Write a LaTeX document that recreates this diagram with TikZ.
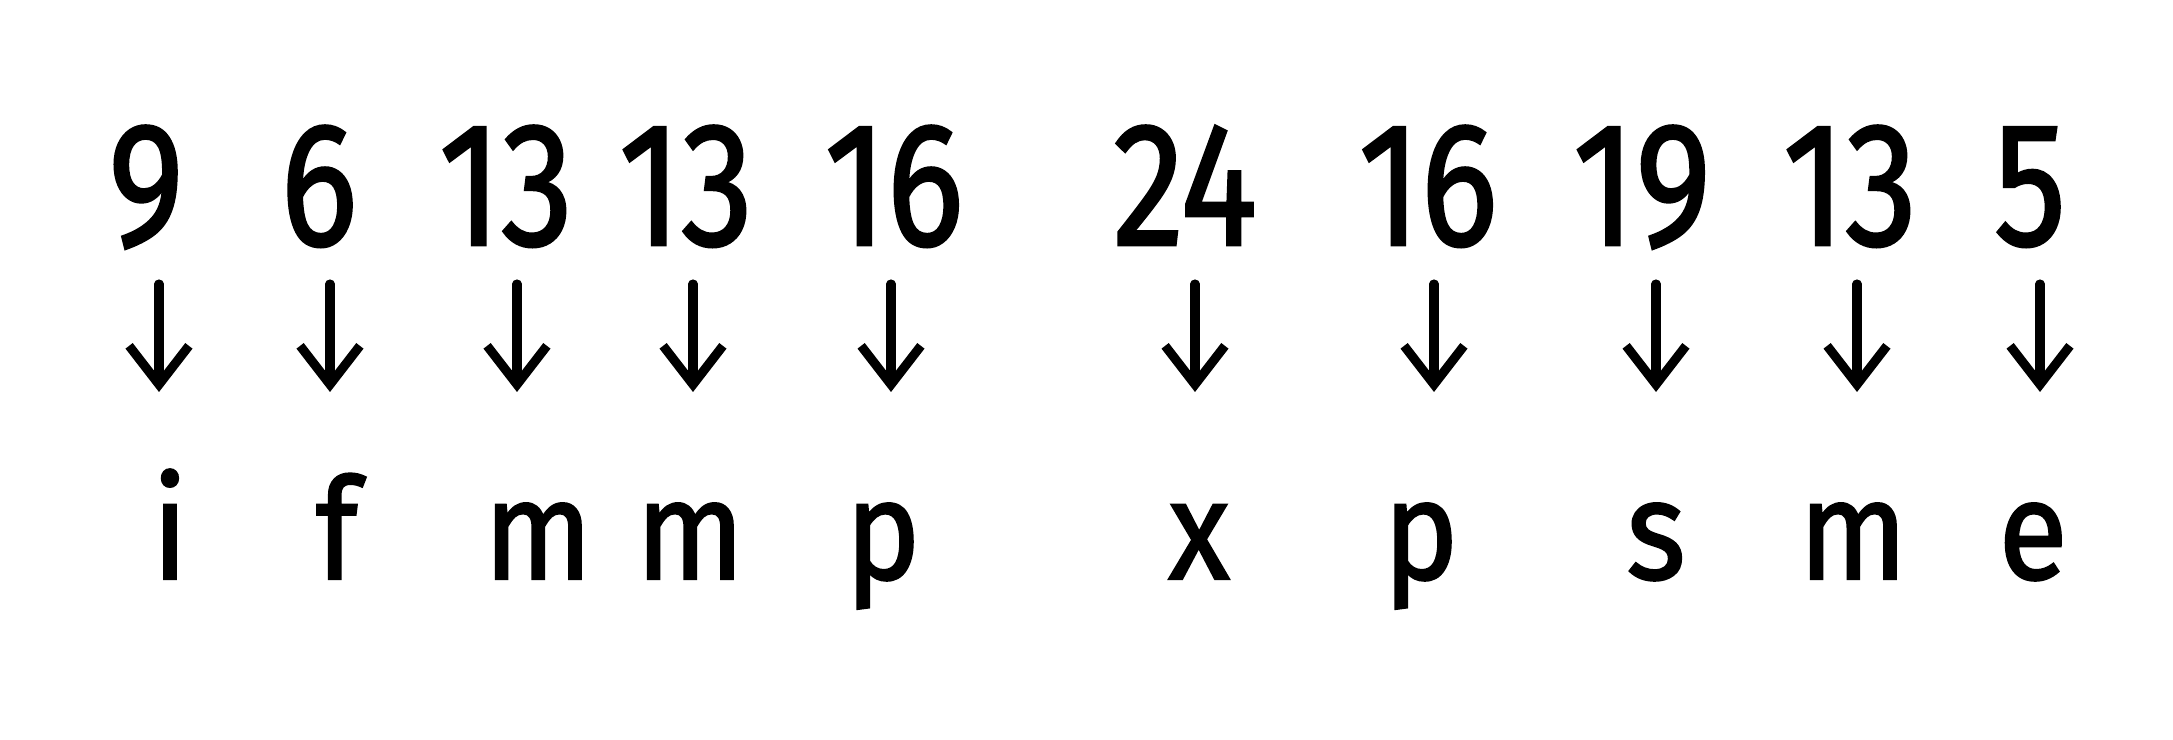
\documentclass[tikz,border=0pt]{standalone}
\usepackage{fontspec}
\setmainfont{Fira Sans}
\newfontfamily\hand[FakeBold=1.6]{Fira Sans}
\usetikzlibrary{arrows.meta}
\begin{document}
\begin{tikzpicture}[x=0.01cm,y=-0.01cm,
  num/.style={anchor=base,font=\fontsize{50}{54}\selectfont\hand,inner sep=0pt},
  let/.style={anchor=base,font=\fontsize{40}{44}\selectfont\hand,inner sep=0pt},
  arr/.style={line width=2.6pt,line cap=round,-{Straight Barb[length=11pt,width=17pt,line width=2.6pt]}}]
\useasboundingbox[fill=white] (0,0) rectangle (2173,740);
\foreach \i/\nx/\ax/\lx/\t/\l in {1/146/159/170/9/i,2/319/330/337/6/f,3/506/517/538/13/m,4/686/693/690/13/m,5/894/891/883/16/p,6/1185/1195/1199/24/x,7/1428/1434/1421/16/p,8/1642/1656/1656/19/s,9/1850/1857/1853/13/m,10/2030/2040/2033/5/e}{
  \node[num] (n\i) at (\nx,245) {\scalebox{0.82}[1]{\t}};
  \node[let] (l\i) at (\lx,579) {\scalebox{0.9}[1]{\l}};
  \coordinate (s\i) at (\ax,284);
  \coordinate (e\i) at (\ax,392);
  \draw[arr] (s\i) -- (e\i);
}
\end{tikzpicture}
\end{document}
